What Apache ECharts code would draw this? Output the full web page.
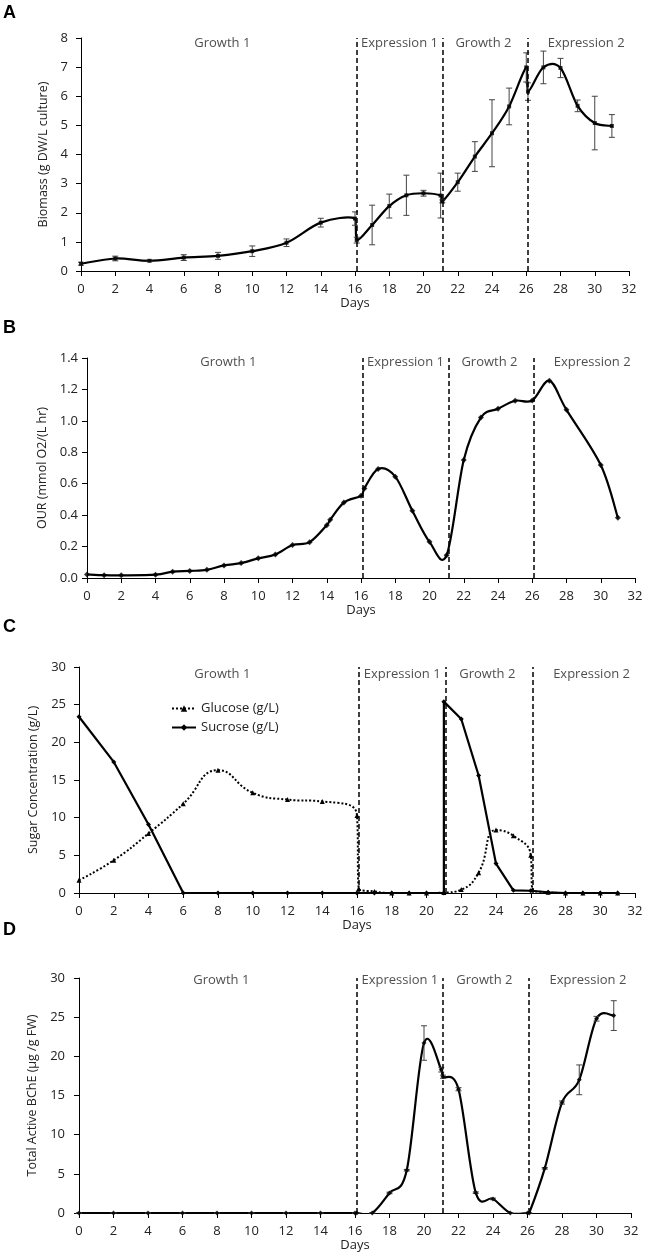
<!DOCTYPE html>
<html>
<head>
<meta charset="utf-8">
<script src="https://cdn.jsdelivr.net/npm/echarts/dist/echarts.min.js"></script>
<style>
html, body { margin: 0; padding: 0; background: #fff; }
#main { width: 648px; height: 1257px; }
</style>
</head>
<body>
<div id="main"></div>
<script>
var phaseNames = ["Growth 1", "Expression 1", "Growth 2", "Expression 2"];
var phaseCenters = [8.25, 18.6, 23.5, 29.5];
var phaseBreaks = [16.1, 21.1, 26.1];

// A - biomass
var daysA = [0, 2, 4, 6, 8, 10, 12, 14, 16, 16.1, 17, 18, 19, 20, 21, 21.1, 22, 23, 24, 25, 26, 26.1, 27, 28, 29, 30, 31];
var biomass = [0.25, 0.43, 0.35, 0.46, 0.52, 0.68, 0.97, 1.66, 1.8, 1.06, 1.58, 2.23, 2.6, 2.67, 2.59, 2.39, 3.05, 3.93, 4.73, 5.65, 6.99, 6.16, 6.99, 6.97, 5.67, 5.08, 4.98];
var biomassErr = [0.05, 0.08, 0.03, 0.1, 0.12, 0.18, 0.13, 0.15, 0.23, 0.1, 0.68, 0.41, 0.69, 0.1, 0.77, 0.05, 0.31, 0.51, 1.15, 0.63, 0.5, 0.3, 0.56, 0.33, 0.2, 0.92, 0.39];

// B - OUR
var daysB = [0, 1, 2, 4, 5, 6, 7, 8, 9, 10, 11, 12, 13, 14, 14.2, 15, 16, 16.2, 17, 18, 19, 20, 21, 22, 23, 24, 25, 26, 27, 28, 30, 31];
var our = [0.023, 0.018, 0.017, 0.021, 0.04, 0.045, 0.052, 0.08, 0.095, 0.125, 0.15, 0.21, 0.228, 0.336, 0.37, 0.48, 0.523, 0.57, 0.694, 0.645, 0.428, 0.23, 0.145, 0.751, 1.021, 1.077, 1.128, 1.13, 1.255, 1.07, 0.719, 0.383];

// C - sugars
var daysGlc = [0, 2, 4, 6, 8, 10, 12, 14, 16, 16.1, 17, 18, 19, 20, 21, 22, 23, 24, 25, 26, 26.1, 27, 28, 29, 30, 31];
var glucose = [1.7, 4.35, 7.9, 11.85, 16.3, 13.3, 12.4, 12.15, 10.3, 0.6, 0.2, 0, 0, 0, 0.05, 0.45, 2.7, 8.35, 7.6, 5.0, 0.45, 0.1, 0, 0, 0, 0];
var daysSuc = [0, 2, 4, 6, 8, 10, 12, 14, 16, 17, 18, 19, 20, 21, 21, 22, 23, 24, 25, 26, 27, 28, 29, 30, 31];
var sucrose = [23.4, 17.4, 9.1, 0, 0, 0, 0, 0, 0, 0, 0, 0, 0, 0, 25.4, 23.1, 15.6, 3.9, 0.35, 0.3, 0.1, 0, 0, 0, 0];

// D - BChE
var daysD = [0, 2, 4, 6, 8, 10, 12, 14, 16, 16.1, 17, 18, 19, 20, 21, 21.1, 22, 23, 24, 25, 26, 26.1, 27, 28, 29, 30, 31];
var bche = [0, 0, 0, 0, 0, 0, 0, 0, 0, 0, 0, 2.56, 5.46, 21.7, 18.3, 17.4, 15.8, 2.6, 1.8, 0, 0, 0, 5.7, 14.1, 17.0, 24.8, 25.2];
var bcheErr = [0, 0, 0, 0, 0, 0, 0, 0, 0, 0, 0, 0.1, 0.1, 2.2, 0.3, 0.2, 0.2, 0.1, 0.1, 0, 0, 0, 0.1, 0.2, 1.9, 0.3, 1.9];

var FONT = "Open Sans";
var TXT = "#222";

function pairs(xs, ys) {
    var out = [];
    for (var i = 0; i < xs.length; ++i) {
        out.push([xs[i], ys[i]]);
    }
    return out;
}
function triples(xs, ys, es) {
    var out = [];
    for (var i = 0; i < xs.length; ++i) {
        out.push([xs[i], ys[i], es[i]]);
    }
    return out;
}

function errRender(params, api) {
    var x = api.value(0), y = api.value(1), e = api.value(2);
    var lo = api.coord([x, y - e]);
    var hi = api.coord([x, y + e]);
    var w = 3;
    var st = { stroke: "#444", lineWidth: 1 };
    return {
        type: "group",
        children: [
            { type: "line", shape: { x1: lo[0], y1: lo[1], x2: hi[0], y2: hi[1] }, style: st },
            { type: "line", shape: { x1: lo[0] - w, y1: lo[1], x2: lo[0] + w, y2: lo[1] }, style: st },
            { type: "line", shape: { x1: hi[0] - w, y1: hi[1], x2: hi[0] + w, y2: hi[1] }, style: st }
        ]
    };
}

// spreadsheet-like smoothed line: one bezier segment per point, tangents from the neighbours
function curveRender(xs, ys, width) {
    return function (params, api) {
        var i = params.dataIndex;
        var n = xs.length;
        if (i >= n - 1) return null;
        function pt(k) {
            k = Math.max(0, Math.min(n - 1, k));
            return api.coord([xs[k], ys[k]]);
        }
        var p0 = pt(i - 1), p1 = pt(i), p2 = pt(i + 1), p3 = pt(i + 2);
        var segW = p2[0] - p1[0];
        var v1 = [(p2[0] - p0[0]) / 6, (p2[1] - p0[1]) / 6];
        var v2 = [(p3[0] - p1[0]) / 6, (p3[1] - p1[1]) / 6];
        if (v1[0] > segW) { v1 = [segW, v1[1] * segW / v1[0]]; }
        if (v2[0] > segW) { v2 = [segW, v2[1] * segW / v2[0]]; }
        return {
            type: "bezierCurve",
            shape: {
                x1: p1[0], y1: p1[1], x2: p2[0], y2: p2[1],
                cpx1: p1[0] + v1[0], cpy1: p1[1] + v1[1],
                cpx2: p2[0] - v2[0], cpy2: p2[1] - v2[1]
            },
            style: { stroke: "#000", lineWidth: width, fill: null, lineCap: "round" }
        };
    };
}

var grids = [
    { left: 81, right: 19, top: 38, height: 233 },
    { left: 87, right: 13, top: 358, height: 220 },
    { left: 79, right: 13, top: 667, height: 226 },
    { left: 79, right: 17, top: 978, height: 235 }
];
var yNames = ["Biomass (g DW/L culture)", "OUR (mmol O2/(L hr)", "Sugar Concentration (g/L)", "Total Active BChE (\u00b5g /g FW)"];
var yMax = [8, 1.4, 30, 30];
var yStep = [1, 0.2, 5, 5];
var yNameGap = [26, 34, 29, 31];
var yLabelMargin = [13, 9, 13, 14];
var xNameGap = [26, 26, 23, 25];
var phaseOffset = [5, 4, 7, 2];

var xAxes = [], yAxes = [], series = [];
for (var g = 0; g < 4; ++g) {
    xAxes.push({
        gridIndex: g, type: "value", min: 0, max: 32, interval: 2,
        name: "Days", nameLocation: "middle", nameGap: xNameGap[g],
        nameTextStyle: { fontFamily: FONT, fontSize: 13, color: TXT },
        axisLine: { lineStyle: { color: "#000", width: 1 } },
        axisTick: { show: true, inside: false, length: 5, lineStyle: { color: "#000" } },
        axisLabel: { fontFamily: FONT, fontSize: 13, color: TXT, margin: 12 },
        splitLine: { show: false }
    });
    yAxes.push({
        gridIndex: g, type: "value", min: 0, max: yMax[g], interval: yStep[g],
        name: yNames[g], nameLocation: "middle", nameGap: yNameGap[g], nameRotate: 90,
        nameTextStyle: { fontFamily: FONT, fontSize: 12.5, color: TXT },
        axisLine: { show: true, lineStyle: { color: "#000", width: 1 } },
        axisTick: { show: true, inside: false, length: 5, lineStyle: { color: "#000" } },
        axisLabel: {
            fontFamily: FONT, fontSize: 13, color: TXT, margin: yLabelMargin[g],
            formatter: g === 1 ? function (v) { return v.toFixed(1); } : null
        },
        splitLine: { show: false }
    });
    series.push({
        type: "scatter", xAxisIndex: g, yAxisIndex: g, silent: true,
        symbolSize: 0,
        data: phaseCenters.map(function (x) { return [x, yMax[g]]; }),
        label: {
            show: true, position: "inside", offset: [0, phaseOffset[g]],
            fontFamily: FONT, fontSize: 13, color: TXT,
            formatter: function (p) { return phaseNames[p.dataIndex]; }
        },
        markLine: {
            silent: true, symbol: "none", label: { show: false },
            lineStyle: { type: [5, 3], color: "#000", width: 1.5 },
            data: phaseBreaks.map(function (x) { return { xAxis: x }; })
        }
    });
}

function addCurve(g, xs, ys, symbol, size) {
    series.push({
        type: "custom", xAxisIndex: g, yAxisIndex: g, silent: true, clip: true,
        renderItem: curveRender(xs, ys, 2.2), encode: { x: 0, y: 1 }, data: pairs(xs, ys), z: 2
    });
    series.push({
        type: "scatter", xAxisIndex: g, yAxisIndex: g, silent: true,
        symbol: symbol, symbolSize: size, itemStyle: { color: "#000" },
        data: pairs(xs, ys), z: 4
    });
}

addCurve(0, daysA, biomass, "rect", 4);
series.push({
    type: "custom", xAxisIndex: 0, yAxisIndex: 0, silent: true,
    renderItem: errRender, encode: { x: 0, y: 1 }, data: triples(daysA, biomass, biomassErr), z: 3
});
addCurve(1, daysB, our, "diamond", 6);
series.push({
    name: "Glucose (g/L)", type: "line", xAxisIndex: 2, yAxisIndex: 2,
    data: pairs(daysGlc, glucose), smooth: 0.5,
    symbol: "triangle", symbolSize: 5, itemStyle: { color: "#000" },
    lineStyle: { color: "#000", width: 2, type: [2, 2] }
});
series.push({
    name: "Sucrose (g/L)", type: "line", xAxisIndex: 2, yAxisIndex: 2,
    data: pairs(daysSuc, sucrose), smooth: false,
    symbol: "diamond", symbolSize: 5, itemStyle: { color: "#000" },
    lineStyle: { color: "#000", width: 2.2 }
});
addCurve(3, daysD, bche, "diamond", 5);
series.push({
    type: "custom", xAxisIndex: 3, yAxisIndex: 3, silent: true,
    renderItem: errRender, encode: { x: 0, y: 1 }, data: triples(daysD, bche, bcheErr), z: 3
});

var letters = ["A", "B", "C", "D"];
var letterTop = [4, 319, 618, 921];
var graphics = letters.map(function (l, i) {
    return {
        type: "text", left: 3, top: letterTop[i],
        style: { text: l, font: "bold 18px Liberation Sans", fill: "#000" }
    };
});

var chart = echarts.init(document.getElementById("main"));
chart.setOption({
    animation: false,
    backgroundColor: "#fff",
    grid: grids,
    xAxis: xAxes,
    yAxis: yAxes,
    legend: {
        data: ["Glucose (g/L)", "Sucrose (g/L)"],
        orient: "vertical", left: 166, top: 697,
        itemWidth: 24, itemHeight: 8, itemGap: 6,
        textStyle: { fontFamily: FONT, fontSize: 13, color: TXT }
    },
    graphic: graphics,
    series: series
});
</script>
</body>
</html>
